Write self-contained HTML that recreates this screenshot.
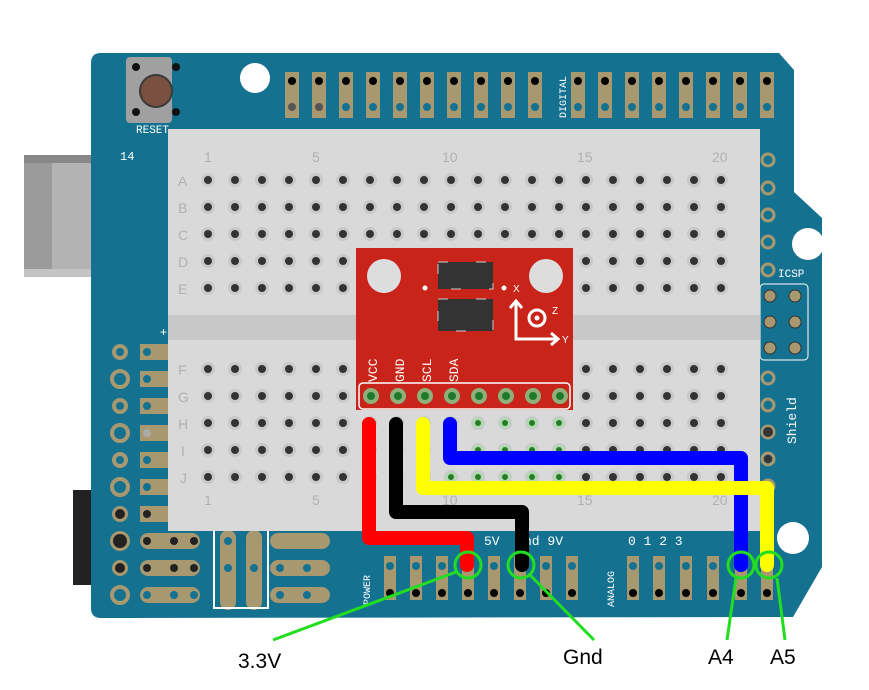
<!DOCTYPE html>
<html><head><meta charset="utf-8"><style>html,body{margin:0;padding:0;background:#fff}svg{display:block}</style></head>
<body>
<svg width="869" height="690" viewBox="0 0 869 690" xmlns="http://www.w3.org/2000/svg" font-family="Liberation Sans, sans-serif">
<defs>
<g id="r">
<g fill="#c9c9c9">
<circle cx="208" cy="0" r="7"/><circle cx="235" cy="0" r="7"/><circle cx="262" cy="0" r="7"/><circle cx="289" cy="0" r="7"/><circle cx="316" cy="0" r="7"/><circle cx="343" cy="0" r="7"/><circle cx="370" cy="0" r="7"/><circle cx="397" cy="0" r="7"/><circle cx="424" cy="0" r="7"/><circle cx="451" cy="0" r="7"/><circle cx="478" cy="0" r="7"/><circle cx="505" cy="0" r="7"/><circle cx="532" cy="0" r="7"/><circle cx="559" cy="0" r="7"/><circle cx="586" cy="0" r="7"/><circle cx="613" cy="0" r="7"/><circle cx="640" cy="0" r="7"/><circle cx="667" cy="0" r="7"/><circle cx="694" cy="0" r="7"/><circle cx="721" cy="0" r="7"/>
</g>
<g fill="#333">
<circle cx="208" cy="0" r="4"/><circle cx="235" cy="0" r="4"/><circle cx="262" cy="0" r="4"/><circle cx="289" cy="0" r="4"/><circle cx="316" cy="0" r="4"/><circle cx="343" cy="0" r="4"/><circle cx="370" cy="0" r="4"/><circle cx="397" cy="0" r="4"/><circle cx="424" cy="0" r="4"/><circle cx="451" cy="0" r="4"/><circle cx="478" cy="0" r="4"/><circle cx="505" cy="0" r="4"/><circle cx="532" cy="0" r="4"/><circle cx="559" cy="0" r="4"/><circle cx="586" cy="0" r="4"/><circle cx="613" cy="0" r="4"/><circle cx="640" cy="0" r="4"/><circle cx="667" cy="0" r="4"/><circle cx="694" cy="0" r="4"/><circle cx="721" cy="0" r="4"/>
</g>
</g>
</defs>
<!-- USB -->
<rect x="24" y="155" width="68" height="122" fill="#b3b3b3"/>
<rect x="24" y="155" width="28" height="122" fill="#9b9b9b"/>
<rect x="24" y="155" width="68" height="8" fill="#888"/>
<rect x="24" y="269" width="68" height="8" fill="#c4c4c4"/>
<!-- power jack -->
<rect x="73" y="490" width="20" height="95" fill="#222"/>
<!-- board -->
<path d="M101,53 L779,53 L794,70 L794,192 L822,218 L822,567 L793,617 L101,618 Q91,618 91,608 L91,63 Q91,53 101,53 Z" fill="#147190"/>
<circle cx="255" cy="78" r="15" fill="#fff"/>
<circle cx="808" cy="244" r="16" fill="#fff"/>
<circle cx="793" cy="538" r="16" fill="#fff"/>
<!-- reset -->
<rect x="126" y="57" width="46" height="66" rx="4" fill="#a0a0a0"/>
<circle cx="156" cy="91" r="16" fill="#7a5040" stroke="#3a3a3a" stroke-width="2"/>
<circle cx="136" cy="67" r="4" fill="#111"/><circle cx="176" cy="67" r="4" fill="#111"/>
<circle cx="136" cy="112" r="4" fill="#111"/><circle cx="176" cy="112" r="4" fill="#111"/>
<text x="136" y="133" font-size="11" fill="#fff" font-family="Liberation Mono, monospace">RESET</text>
<text x="120" y="160" font-size="12" fill="#fff" font-family="Liberation Mono, monospace">14</text>
<!-- top header -->
<g fill="#a89870">
<rect x="285" y="72" width="14" height="46"/><rect x="312" y="72" width="14" height="46"/><rect x="339" y="72" width="14" height="46"/><rect x="366" y="72" width="14" height="46"/><rect x="393" y="72" width="14" height="46"/><rect x="420" y="72" width="14" height="46"/><rect x="447" y="72" width="14" height="46"/><rect x="474" y="72" width="14" height="46"/><rect x="501" y="72" width="14" height="46"/><rect x="528" y="72" width="14" height="46"/>
<rect x="571" y="72" width="14" height="46"/><rect x="598" y="72" width="14" height="46"/><rect x="625" y="72" width="14" height="46"/><rect x="652" y="72" width="14" height="46"/><rect x="679" y="72" width="14" height="46"/><rect x="706" y="72" width="14" height="46"/><rect x="733" y="72" width="14" height="46"/><rect x="760" y="72" width="14" height="46"/>
</g>
<g fill="#000">
<circle cx="292" cy="81" r="4"/><circle cx="319" cy="81" r="4"/><circle cx="346" cy="81" r="4"/><circle cx="373" cy="81" r="4"/><circle cx="400" cy="81" r="4"/><circle cx="427" cy="81" r="4"/><circle cx="454" cy="81" r="4"/><circle cx="481" cy="81" r="4"/><circle cx="508" cy="81" r="4"/><circle cx="535" cy="81" r="4"/>
<circle cx="578" cy="81" r="4"/><circle cx="605" cy="81" r="4"/><circle cx="632" cy="81" r="4"/><circle cx="659" cy="81" r="4"/><circle cx="686" cy="81" r="4"/><circle cx="713" cy="81" r="4"/><circle cx="740" cy="81" r="4"/><circle cx="767" cy="81" r="4"/>
</g>
<g fill="#147190">
<circle cx="292" cy="107" r="4" fill="#555"/><circle cx="319" cy="107" r="4" fill="#555"/><circle cx="346" cy="107" r="4"/><circle cx="373" cy="107" r="4"/><circle cx="400" cy="107" r="4"/><circle cx="427" cy="107" r="4"/><circle cx="454" cy="107" r="4"/><circle cx="481" cy="107" r="4"/><circle cx="508" cy="107" r="4"/><circle cx="535" cy="107" r="4"/>
<circle cx="578" cy="107" r="4"/><circle cx="605" cy="107" r="4"/><circle cx="632" cy="107" r="4"/><circle cx="659" cy="107" r="4"/><circle cx="686" cy="107" r="4"/><circle cx="713" cy="107" r="4"/><circle cx="740" cy="107" r="4"/><circle cx="767" cy="107" r="4"/>
</g>
<text x="0" y="0" font-size="10" fill="#fff" transform="translate(566,118) rotate(-90)" font-family="Liberation Mono, monospace">DIGITAL</text>
<!-- right column -->
<g fill="none" stroke="#a89870" stroke-width="3">
<circle cx="768" cy="160" r="6"/><circle cx="768" cy="188" r="6"/><circle cx="768" cy="215" r="6"/><circle cx="768" cy="242" r="6"/><circle cx="768" cy="270" r="6"/>
<circle cx="768" cy="378" r="6"/><circle cx="768" cy="405" r="6"/><circle cx="768" cy="432" r="6"/><circle cx="768" cy="459" r="6"/><circle cx="768" cy="486" r="6"/>
</g>
<circle cx="768" cy="432" r="5" fill="#333"/><circle cx="768" cy="459" r="4" fill="#333"/>
<text x="778" y="277" font-size="11" fill="#fff" font-family="Liberation Mono, monospace">ICSP</text>
<g fill="#a89870" stroke="#333" stroke-width="1">
<circle cx="770" cy="296" r="6"/><circle cx="795" cy="296" r="6"/><circle cx="770" cy="322" r="6"/><circle cx="795" cy="322" r="6"/><circle cx="770" cy="348" r="6"/><circle cx="795" cy="348" r="6"/>
</g>
<rect x="760" y="284" width="48" height="76" rx="4" fill="none" stroke="#fff" stroke-width="1"/>
<text x="0" y="0" font-size="13" fill="#fff" transform="translate(796,444) rotate(-90)" font-family="Liberation Mono, monospace">Shield</text>
<!-- left prototype -->
<g fill="none" stroke="#a89870" stroke-width="4">
<circle cx="120" cy="352" r="6"/><circle cx="120" cy="379" r="8"/><circle cx="120" cy="406" r="6"/><circle cx="120" cy="433" r="8"/><circle cx="120" cy="460" r="6"/><circle cx="120" cy="487" r="8"/><circle cx="120" cy="595" r="8"/>
</g>
<circle cx="120" cy="514" r="8" fill="#a89870"/><circle cx="120" cy="514" r="5" fill="#222"/>
<circle cx="120" cy="541" r="10" fill="#a89870"/><circle cx="120" cy="541" r="7" fill="#222"/>
<circle cx="120" cy="568" r="8" fill="#a89870"/><circle cx="120" cy="568" r="5" fill="#222"/>
<g fill="#a89870">
<rect x="140" y="344" width="30" height="16"/><rect x="140" y="371" width="30" height="16"/><rect x="140" y="398" width="30" height="16"/><rect x="140" y="425" width="30" height="16"/><rect x="140" y="452" width="30" height="16"/><rect x="140" y="479" width="30" height="16"/><rect x="140" y="506" width="30" height="16"/>
<rect x="140" y="533" width="60" height="16" rx="8"/><rect x="140" y="560" width="60" height="16" rx="8"/><rect x="140" y="587" width="60" height="16" rx="8"/>
<rect x="270" y="533" width="60" height="16" rx="8"/><rect x="270" y="560" width="60" height="16" rx="8"/><rect x="270" y="587" width="60" height="16" rx="8"/>
<rect x="220" y="530" width="16" height="80" rx="8"/><rect x="246" y="530" width="16" height="80" rx="8"/>
</g>
<g fill="#147190"><circle cx="147" cy="352" r="4"/><circle cx="147" cy="379" r="4"/><circle cx="147" cy="406" r="4"/><circle cx="147" cy="460" r="4"/><circle cx="147" cy="487" r="4"/><circle cx="147" cy="595" r="4"/><circle cx="174" cy="595" r="4"/><circle cx="194" cy="595" r="4"/><circle cx="228" cy="541" r="4"/><circle cx="228" cy="568" r="4"/><circle cx="254" cy="568" r="4"/><circle cx="280" cy="568" r="4"/><circle cx="307" cy="568" r="4"/><circle cx="280" cy="595" r="4"/><circle cx="307" cy="595" r="4"/></g>
<circle cx="147" cy="433" r="4" fill="#aaa"/>
<g fill="#222"><circle cx="147" cy="514" r="4"/><circle cx="147" cy="541" r="4"/><circle cx="174" cy="541" r="4"/><circle cx="194" cy="541" r="4"/><circle cx="147" cy="568" r="4"/><circle cx="174" cy="568" r="4"/><circle cx="194" cy="568" r="4"/></g>
<rect x="214" y="528" width="54" height="80" fill="none" stroke="#fff" stroke-width="2"/>
<text x="160" y="336" font-size="12" fill="#fff">+</text>
<!-- bottom headers -->
<g fill="#a89870">
<rect x="384" y="556" width="12" height="44"/><rect x="410" y="556" width="12" height="44"/><rect x="436" y="556" width="12" height="44"/><rect x="462" y="556" width="12" height="44"/><rect x="488" y="556" width="12" height="44"/><rect x="514" y="556" width="12" height="44"/><rect x="540" y="556" width="12" height="44"/><rect x="566" y="556" width="12" height="44"/>
<rect x="627" y="556" width="12" height="44"/><rect x="653" y="556" width="12" height="44"/><rect x="680" y="556" width="12" height="44"/><rect x="707" y="556" width="12" height="44"/><rect x="735" y="556" width="12" height="44"/><rect x="761" y="556" width="12" height="44"/>
</g>
<g fill="#000"><circle cx="390" cy="593" r="4"/><circle cx="416" cy="593" r="4"/><circle cx="442" cy="593" r="4"/><circle cx="468" cy="593" r="4"/><circle cx="494" cy="593" r="4"/><circle cx="520" cy="593" r="4"/><circle cx="546" cy="593" r="4"/><circle cx="572" cy="593" r="4"/><circle cx="633" cy="593" r="4"/><circle cx="659" cy="593" r="4"/><circle cx="686" cy="593" r="4"/><circle cx="713" cy="593" r="4"/><circle cx="741" cy="593" r="4"/><circle cx="767" cy="593" r="4"/></g>
<g fill="#147190"><circle cx="390" cy="566" r="4"/><circle cx="416" cy="566" r="4"/><circle cx="442" cy="566" r="4"/><circle cx="494" cy="566" r="4"/><circle cx="546" cy="566" r="4"/><circle cx="572" cy="566" r="4"/><circle cx="633" cy="566" r="4"/><circle cx="659" cy="566" r="4"/><circle cx="686" cy="566" r="4"/><circle cx="713" cy="566" r="4"/></g>
<text x="0" y="0" font-size="10" fill="#fff" transform="translate(370,605) rotate(-90)" font-family="Liberation Mono, monospace">POWER</text>
<text x="0" y="0" font-size="10" fill="#fff" transform="translate(614,607) rotate(-90)" font-family="Liberation Mono, monospace">ANALOG</text>
<text x="484" y="545" font-size="13" fill="#fff" font-family="Liberation Mono, monospace">5V</text>
<text x="524" y="545" font-size="13" fill="#fff" font-family="Liberation Mono, monospace">nd 9V</text>
<text x="628" y="545" font-size="13" fill="#fff" font-family="Liberation Mono, monospace">0 1 2 3</text>
<!-- breadboard -->
<rect x="168" y="129" width="592" height="402" fill="#d9d9d9"/>
<rect x="168" y="315" width="592" height="25" fill="#c8c8c8"/>
<g font-size="14" fill="#b0b0b0">
<text x="204" y="162">1</text><text x="312" y="162">5</text><text x="442" y="162">10</text><text x="577" y="162">15</text><text x="712" y="162">20</text>
<text x="204" y="505">1</text><text x="312" y="505">5</text><text x="442" y="505">10</text><text x="577" y="505">15</text><text x="712" y="505">20</text>
<text x="178" y="186">A</text><text x="178" y="213">B</text><text x="178" y="240">C</text><text x="178" y="267">D</text><text x="178" y="294">E</text>
<text x="178" y="375">F</text><text x="178" y="402">G</text><text x="178" y="429">H</text><text x="181" y="456">I</text><text x="180" y="483">J</text>
</g>
<use href="#r" y="180"/><use href="#r" y="207"/><use href="#r" y="234"/><use href="#r" y="261"/><use href="#r" y="288"/>
<use href="#r" y="369"/><use href="#r" y="396"/><use href="#r" y="423"/><use href="#r" y="450"/><use href="#r" y="477"/>
<g fill="#2a7a2a" stroke="#a8e0a8" stroke-width="2">
<circle cx="478" cy="423" r="4"/><circle cx="505" cy="423" r="4"/><circle cx="532" cy="423" r="4"/><circle cx="559" cy="423" r="4"/>
<circle cx="478" cy="450" r="4"/><circle cx="505" cy="450" r="4"/><circle cx="532" cy="450" r="4"/><circle cx="559" cy="450" r="4"/>
<circle cx="451" cy="477" r="4"/><circle cx="478" cy="477" r="4"/><circle cx="505" cy="477" r="4"/><circle cx="532" cy="477" r="4"/><circle cx="559" cy="477" r="4"/>
</g>
<!-- chip -->
<rect x="356" y="248" width="217" height="162" fill="#c8241a"/>
<circle cx="384" cy="276" r="17" fill="#ddd"/><circle cx="546" cy="276" r="17" fill="#ddd"/>
<rect x="438" y="262" width="55" height="27" fill="#333" stroke="#ccc" stroke-width="1" stroke-dasharray="10 28"/>
<rect x="438" y="299" width="55" height="32" fill="#333" stroke="#ccc" stroke-width="1" stroke-dasharray="10 28"/>
<circle cx="425" cy="288" r="2.5" fill="#fff"/><circle cx="504" cy="288" r="2.5" fill="#fff"/>
<text x="513" y="292" font-size="10" fill="#fff">X</text>
<path d="M516,302 V339 H557 M510,308 L516,301 L522,308 M551,333 L558,339 L551,345" fill="none" stroke="#fff" stroke-width="3"/>
<circle cx="537" cy="318" r="8" fill="none" stroke="#fff" stroke-width="3"/><circle cx="537" cy="318" r="2.5" fill="#fff"/>
<text x="552" y="314" font-size="10" fill="#fff">Z</text><text x="562" y="343" font-size="10" fill="#fff">Y</text>
<g font-size="13" fill="#fff" font-family="Liberation Mono, monospace">
<text transform="translate(377,382) rotate(-90)">VCC</text>
<text transform="translate(404,382) rotate(-90)">GND</text>
<text transform="translate(431,382) rotate(-90)">SCL</text>
<text transform="translate(458,382) rotate(-90)">SDA</text>
</g>
<rect x="359" y="383" width="211" height="26" fill="none" stroke="#fff" stroke-width="1.5" rx="4"/>
<g fill="#8fb07a"><circle cx="371" cy="396" r="8"/><circle cx="398" cy="396" r="8"/><circle cx="425" cy="396" r="8"/><circle cx="452" cy="396" r="8"/><circle cx="479" cy="396" r="8"/><circle cx="506" cy="396" r="8"/><circle cx="533" cy="396" r="8"/><circle cx="560" cy="396" r="8"/></g>
<g fill="#1e7a2a"><circle cx="371" cy="396" r="4"/><circle cx="398" cy="396" r="4"/><circle cx="425" cy="396" r="4"/><circle cx="452" cy="396" r="4"/><circle cx="479" cy="396" r="4"/><circle cx="506" cy="396" r="4"/><circle cx="533" cy="396" r="4"/><circle cx="560" cy="396" r="4"/></g>
<!-- wires -->
<g fill="none" stroke-width="14" stroke-linejoin="round" stroke-linecap="round">
<path d="M450,424 V458 H741 V565" stroke="#0000ff"/>
<path d="M423,424 V488 H767 V565" stroke="#ffff00"/>
<path d="M369,424 V538 H467 V565" stroke="#ff0000"/>
<path d="M396,424 V512 H522 V565" stroke="#000"/>
</g>
<g fill="none" stroke="#22dd22" stroke-width="3">
<circle cx="468" cy="565" r="13"/><circle cx="521" cy="565" r="13"/><circle cx="741" cy="565" r="13"/><circle cx="769" cy="565" r="13"/>
<line x1="456" y1="572" x2="273" y2="640"/><line x1="530" y1="575" x2="594" y2="640"/><line x1="736" y1="578" x2="727" y2="640"/><line x1="777" y1="578" x2="785" y2="640"/>
</g>
<g font-size="21" fill="#000">
<text x="238" y="668">3.3V</text><text x="563" y="664">Gnd</text><text x="708" y="664">A4</text><text x="770" y="664">A5</text>
</g>
</svg>
</body></html>
